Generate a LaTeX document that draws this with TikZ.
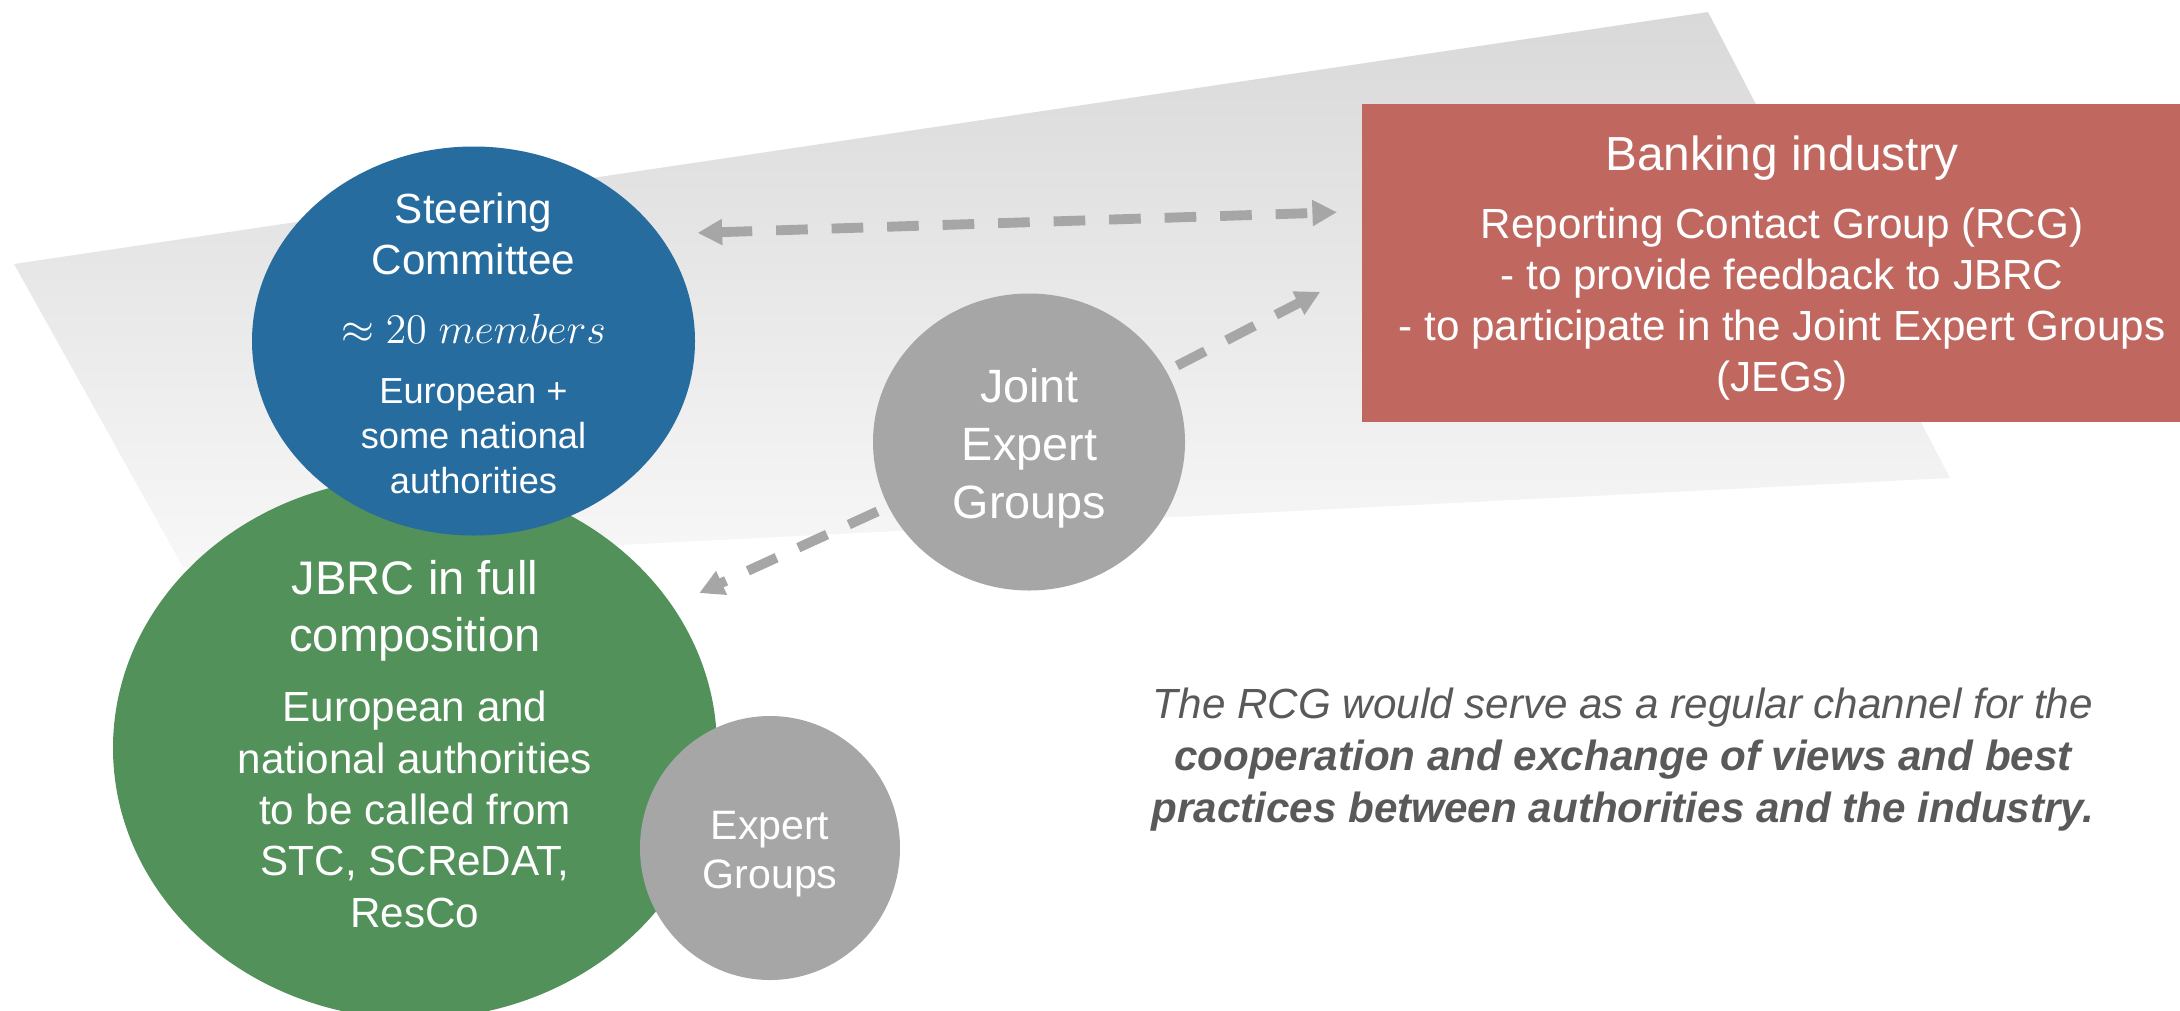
\documentclass[tikz,border=0pt]{standalone}
\usepackage[no-math]{fontspec}
\setmainfont{Liberation Sans}
\usetikzlibrary{arrows.meta,shapes.geometric,backgrounds}

\definecolor{scblue}{RGB}{39,108,158}
\definecolor{jbrcgreen}{RGB}{82,146,90}
\definecolor{bankred}{RGB}{192,104,96}
\definecolor{groupgray}{RGB}{166,166,166}
\definecolor{notegray}{RGB}{89,89,89}

\tikzset{
    %Define standard arrow tip
    >={Triangle[length=7pt,width=7pt]},
    %Define style for the filled bubbles
    bubble/.style={
           ellipse,
           draw=none,
           inner sep=0pt,
           outer sep=0pt},
    %Define style for white text set on the shapes
    bubbletext/.style={
           text=white,
           align=center,
           inner sep=0pt,
           anchor=north},
    % Define dashed connector style
    link/.style={
           draw=groupgray,
           line width=2.8pt,
           dash pattern=on 9pt off 6.8pt}
}

\begin{document}
\begin{tikzpicture}
\useasboundingbox (0,0) rectangle (21.8,-10.1);

 %shapes
\node[bubble, fill=jbrcgreen, minimum width=6.04cm, minimum height=5.42cm] (jbrc) at (4.15,-7.48) {};
\node[bubble, fill=scblue, minimum width=4.43cm, minimum height=3.89cm] (sc) at (4.735,-3.41) {};
\node[bubble, fill=groupgray, minimum width=2.6cm, minimum height=2.64cm] (eg) at (7.7,-8.48) {};
\node[bubble, fill=groupgray, minimum width=3.12cm, minimum height=2.97cm] (jeg) at (10.29,-4.42) {};
\node[rectangle, fill=bankred, inner sep=0pt, outer sep=0pt, minimum width=8.4cm, minimum height=3.18cm] (bank) at (17.82,-2.63) {};

 %texts
\node[bubbletext, font=\fontsize{12}{14.5}\selectfont] (scTitle) at (4.735,-1.926) {Steering\\Committee};
\node[text=white, inner sep=0pt, anchor=base, font=\fontsize{12.2}{14.5}\selectfont] (scCount) at (4.735,-3.43) {$\approx 20\;members$};
\node[bubbletext, font=\fontsize{10.3}{12.8}\selectfont] (scBody) at (4.735,-3.78) {European +\\some national\\authorities};

\node[bubbletext, font=\fontsize{13.4}{16.2}\selectfont] (jbrcTitle) at (4.15,-5.60) {JBRC in full\\composition};
\node[bubbletext, font=\fontsize{12}{14.6}\selectfont] (jbrcBody) at (4.15,-6.906) {European and\\national authorities\\to be called from\\STC, SCReDAT,\\ResCo};

\node[bubbletext, font=\fontsize{13.3}{16.5}\selectfont] (jegText) at (10.295,-3.68) {Joint\\Expert\\Groups};
\node[bubbletext, font=\fontsize{11.7}{14.2}\selectfont] (egText) at (7.70,-8.10) {Expert\\Groups};

\node[text=white, inner sep=0pt, anchor=base, font=\fontsize{13.6}{16}\selectfont] (bankTitle) at (17.82,-1.70) {Banking industry};
\node[bubbletext, font=\fontsize{12}{14.5}\selectfont] (bankBody) at (17.82,-2.076) {Reporting Contact Group (RCG)\\- to provide feedback to JBRC\\- to participate in the Joint Expert Groups\\(JEGs)};

\node[text=notegray, align=center, inner sep=0pt, anchor=north, font=\fontsize{12}{14.7}\selectfont\itshape] (note) at (16.23,-6.876) {The RCG would serve as a regular channel for the\\\bfseries cooperation and exchange of views and best\\\bfseries practices between authorities and the industry.};

 %band and connectors, behind the shapes
\begin{scope}[on background layer]
\shade[top color=black!15, bottom color=black!3] (0.14,-2.64) -- (17.08,-0.12) -- (19.50,-4.78) -- (1.83,-5.67) -- cycle;
\draw[link, <->, shorten <=0.39cm, shorten >=0.25cm] (sc.30.5) -- (bank.173.1);
\draw[link, ->, shorten >=0.47cm] (jeg.center) -- (bank.181.4);
\draw[link, ->, shorten >=0.3cm] (jeg.center) -- (jbrc.29.5);
\end{scope}

\end{tikzpicture}
\end{document}
